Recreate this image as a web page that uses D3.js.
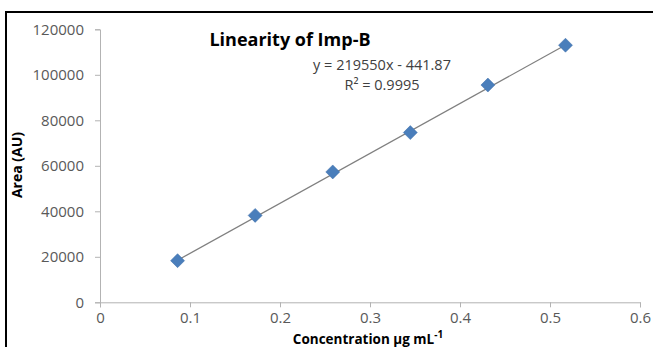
<!DOCTYPE html>
<html><head><meta charset="utf-8">
<script src="https://cdn.jsdelivr.net/npm/d3@7"></script>
<style>body{margin:0;background:#fff}svg{display:block}text{font-family:"Open Sans","Liberation Sans",sans-serif}</style>
</head><body>
<svg id="c" width="653" height="347"></svg>
<script>
const concentration = [0.0862, 0.1724, 0.2586, 0.3448, 0.431, 0.5172];
const area = [18300, 38200, 57300, 74600, 95500, 113000];
const xTicks = [0, 0.1, 0.2, 0.3, 0.4, 0.5, 0.6];
const yTicks = [0, 20000, 40000, 60000, 80000, 100000, 120000];
const slope = 219550, intercept = -441.87;
const titleText = "Linearity of Imp-B";
const eqText = "y = 219550x - 441.87";
const r2Text = "R² = 0.9995";

const svg = d3.select("#c");
const x = d3.scaleLinear().domain([0, 0.6]).range([100, 640]);
const y = d3.scaleLinear().domain([0, 120000]).range([302.3, 29.3]);

// frame
svg.append("line").attr("x1",6).attr("x2",653).attr("y1",12).attr("y2",12).attr("stroke","#000").attr("stroke-width",2);
svg.append("line").attr("x1",6).attr("x2",6).attr("y1",11).attr("y2",347).attr("stroke","#000").attr("stroke-width",2);

const axisColor = "#b3b3b3";
const gx = svg.append("g").attr("transform",`translate(0,${y(0)})`)
  .call(d3.axisBottom(x).tickValues(xTicks).tickSize(5).tickPadding(8).tickFormat(d3.format("")));
const gy = svg.append("g").attr("transform",`translate(${x(0)},0)`)
  .call(d3.axisLeft(y).tickValues(yTicks).tickSize(5).tickPadding(11).tickFormat(d3.format("")));
[gx, gy].forEach(g => {
  g.select(".domain").attr("stroke", axisColor);
  g.selectAll(".tick line").attr("stroke", axisColor);
  g.selectAll(".tick text").attr("fill","#595959").style("font-size","15px");
});
gx.selectAll(".tick text").attr("dy", null).attr("y", 21);

// trendline
const x0 = d3.min(concentration), x1 = d3.max(concentration);
svg.append("line")
  .attr("x1", x(x0)).attr("y1", y(slope*x0+intercept))
  .attr("x2", x(x1)).attr("y2", y(slope*x1+intercept))
  .attr("stroke","#808080").attr("stroke-width",1.3);

// markers
const sym = d3.symbol().type(d3.symbolDiamond2).size(125);
svg.selectAll("path.pt").data(concentration).enter().append("path")
  .attr("class","pt")
  .attr("d", sym)
  .attr("transform",(d,i)=>`translate(${x(d)},${y(area[i])})`)
  .attr("fill","#4A7EBB").attr("stroke","#3f6fa8").attr("stroke-width",0.5);

// texts
svg.append("text").attr("x",290).attr("y",46).attr("text-anchor","middle").text(titleText)
  .style("font-size","18px").style("font-weight","bold").attr("fill","#000");
svg.append("text").attr("x",382).attr("y",70).attr("text-anchor","middle").text(eqText)
  .style("font-size","14.5px").attr("fill","#404040");
svg.append("text").attr("x",382).attr("y",90).attr("text-anchor","middle").text(r2Text)
  .style("font-size","14.5px").attr("fill","#404040");

svg.append("text").attr("transform","translate(22,165) rotate(-90)").attr("text-anchor","middle")
  .text("Area (AU)").style("font-size","14px").style("font-weight","bold").attr("fill","#000");
const xl = svg.append("text").attr("x",368).attr("y",344).attr("text-anchor","middle")
  .style("font-size","13.5px").style("font-weight","bold").attr("fill","#000");
xl.append("tspan").text("Concentration µg mL");
xl.append("tspan").attr("dy",-6).style("font-size","10px").text("-1");
</script>
</body></html>
